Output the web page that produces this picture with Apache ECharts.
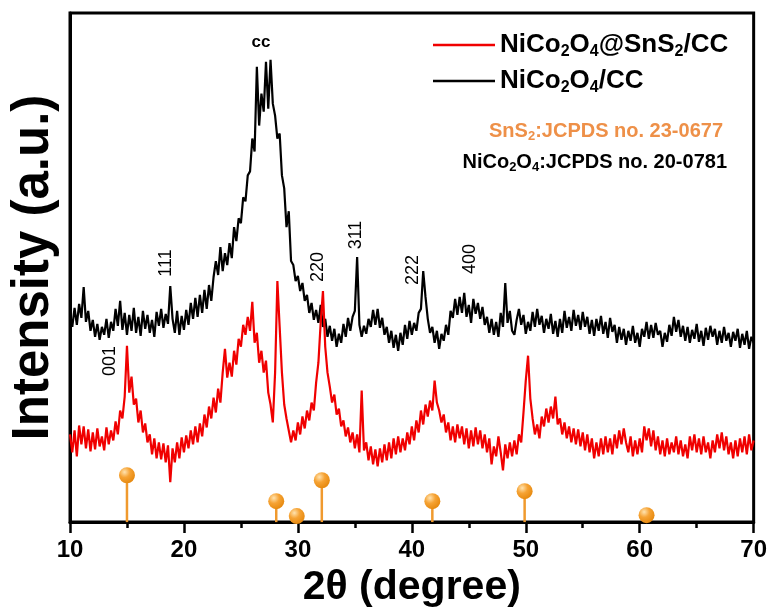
<!DOCTYPE html>
<html>
<head>
<meta charset="utf-8">
<title>XRD NiCo2O4@SnS2/CC</title>
<script src="https://cdn.jsdelivr.net/npm/echarts@6.0.0/dist/echarts.min.js"></script>
<style>
  html, body { margin: 0; padding: 0; background: #fff; }
  #main { width: 770px; height: 613px; }
</style>
</head>
<body>
<div id="main"></div>
<script>
// 2theta grid: 10.0 .. 70.0, step 0.2 (one row = one degree)
var thetaStart = 10;
var thetaStep = 0.2;

// NiCo2O4@SnS2/CC (red), intensity in a.u.
var nicoSns = [
  88,70,92,66,97,   78,96,74,93,71,   90,73,94,76,86,   72,95,78,92,82,
  101,88,112,104,126, 177,130,146,118,124, 100,112,90,99,80, 88,68,84,64,80,
  63,79,60,77,40,   74,60,80,64,85,   70,87,74,92,78,   96,80,99,86,108,
  95,116,104,125,110, 134,120,150,174,145, 160,146,172,158,184, 176,198,188,206,192,
  221,180,190,160,172, 150,162,130,118,100, 150,242,196,150,118, 104,92,80,92,82,
  100,88,106,94,112, 102,120,112,140,160, 200,232,176,150,136, 120,128,108,114,96,
  102,86,95,80,90,  74,88,70,132,72,  80,62,76,58,73,   56,74,60,78,62,
  80,64,84,68,86,   70,84,72,90,78,   96,82,102,90,112, 98,118,106,122,112,
  142,120,112,100,108, 90,100,82,96,80, 98,84,96,78,94,  74,92,76,95,78,
  92,74,88,70,84,   58,76,66,86,70,   52,78,64,80,66,   82,68,88,80,110,
  142,167,124,104,88, 98,84,106,96,114, 100,116,104,126,98, 104,88,100,84,96,
  80,94,78,93,76,   90,72,88,70,84,   64,80,66,84,68,   86,70,84,68,88,
  74,92,78,94,80,   70,86,66,82,68,   84,70,96,82,94,   76,92,72,86,68,
  82,66,84,68,80,   70,86,68,82,66,   78,64,86,72,88,   70,84,68,86,70,
  80,64,82,70,88,   74,90,72,86,68,   80,64,82,66,84,   70,86,68,88,72,
  82
];

// NiCo2O4/CC (black), intensity in a.u.
var nico = [
  210,196,215,198,219, 205,236,201,212,192, 203,186,199,183,196, 188,204,185,201,192,
  214,197,222,193,210, 188,208,192,215,190, 206,187,212,194,208, 190,203,186,211,197,
  214,195,209,199,237, 204,190,212,188,207, 193,213,198,220,204, 225,206,228,210,233,
  214,238,222,246,262, 248,276,252,270,258, 280,265,296,282,305, 300,326,322,348,352,
  385,372,457,398,430, 412,462,415,464,420, 408,385,390,348,335, 296,312,262,258,242,
  247,232,240,222,228, 210,220,203,213,200, 218,196,204,186,197, 182,194,176,189,180,
  199,186,205,192,206, 212,266,198,186,197, 189,204,196,213,198, 214,195,205,188,196,
  180,192,175,188,172, 190,178,198,184,202, 188,200,192,210,214, 252,226,204,190,196,
  180,192,174,189,182, 198,188,212,205,224, 208,226,210,230,206, 218,200,224,209,220,
  204,216,198,206,190, 204,188,201,186,210, 196,240,200,212,192, 188,203,214,198,208,
  189,201,192,211,196, 214,198,207,190,204, 194,209,189,202,186, 204,190,212,195,206,
  192,213,197,208,193, 211,196,206,189,203, 187,204,192,207,189, 201,185,205,191,198,
  180,196,183,194,178, 192,182,197,180,190, 176,194,186,201,184, 198,185,200,188,192,
  176,190,181,198,187, 206,191,203,186,197, 182,196,180,193,184, 199,181,192,177,195,
  183,197,186,194,178, 192,180,196,182,190, 176,191,182,194,175, 189,178,192,174,186,
  180
];

// SnS2 reference lines (JCPDS 23-0677): [2theta, relative height]
var sns2Ref = [[15.0, 47], [28.1, 21], [29.9, 6], [32.1, 42], [41.8, 21], [49.9, 31], [60.6, 7]];

var xTicks = [10, 20, 30, 40, 50, 60, 70];

function toPairs(arr) {
  return arr.map(function (v, i) {
    return [+(thetaStart + i * thetaStep).toFixed(1), v];
  });
}

var FONT = 'Liberation Sans, Arial, sans-serif';

// write digits as subscripts (legend names)
function subs(text) {
  return text.replace(/(\d)|([^\d]+)/g, function (m, d, t) {
    return d ? '{s|' + d + '}' : '{m|' + t + '}';
  });
}

var myChart = echarts.init(document.getElementById('main'));

var ballFill = new echarts.graphic.RadialGradient(0.35, 0.3, 0.75, [
  { offset: 0, color: '#FFE3B0' },
  { offset: 0.45, color: '#F6A334' },
  { offset: 1, color: '#E5870C' }
]);

var peakText = function (txt, x, y, rot) {
  return {
    type: 'text', x: x, y: y, rotation: rot ? Math.PI / 2 : 0,
    style: {
      text: txt, align: 'center', verticalAlign: 'middle',
      font: (rot ? 'normal 18px ' : 'bold 17px ') + FONT, fill: '#000'
    }
  };
};

// subscripts pushed down with top padding
function refRich(color) {
  return {
    a: { fontSize: 20, fontWeight: 'bold', fontFamily: FONT, fill: color, lineHeight: 24 },
    b: { fontSize: 13, fontWeight: 'bold', fontFamily: FONT, fill: color, lineHeight: 13, padding: [11, 0, 0, 0] }
  };
}

var option = {
  animation: false,
  textStyle: { fontFamily: FONT },
  grid: {
    left: 64, right: 15, top: 13, bottom: 89,
    show: true, borderColor: '#000', borderWidth: 3
  },
  legend: {
    data: ['NiCo2O4@SnS2/CC', 'NiCo2O4/CC'],
    orient: 'vertical',
    left: 428, top: 25,
    icon: 'rect', itemWidth: 62, itemHeight: 2.5, itemGap: 6,
    formatter: subs,
    textStyle: {
      color: '#000',
      rich: {
        m: { fontSize: 26, fontWeight: 'bold', fontFamily: FONT, color: '#000', lineHeight: 30 },
        s: { fontSize: 16, fontWeight: 'bold', fontFamily: FONT, color: '#000', lineHeight: 16, padding: [14, 0, 0, 0] }
      }
    }
  },
  xAxis: {
    type: 'value', min: 10, max: 70, interval: 10,
    name: '2θ (degree)', nameLocation: 'middle', nameGap: 43,
    nameTextStyle: { fontSize: 41, fontWeight: 'bold', color: '#000', fontFamily: FONT },
    axisLine: { lineStyle: { color: '#000', width: 3 } },
    axisTick: { length: 11, lineStyle: { width: 2.5, color: '#000' } },
    minorTick: { show: true, splitNumber: 2, length: 6, lineStyle: { width: 2.5, color: '#000' } },
    axisLabel: {
      fontSize: 24, fontWeight: 'bold', color: '#000', margin: 16,
      formatter: function (v) { return xTicks.indexOf(v) >= 0 ? String(v) : ''; }
    },
    splitLine: { show: false }
  },
  yAxis: {
    type: 'value', min: 0, max: 511,
    name: 'Intensity (a.u.)', nameLocation: 'middle', nameGap: 11,
    nameTextStyle: { fontSize: 51, fontWeight: 'bold', color: '#000', fontFamily: FONT },
    axisLine: { show: true, lineStyle: { color: '#000', width: 3 } },
    axisTick: { show: false },
    axisLabel: { show: false },
    splitLine: { show: false }
  },
  graphic: [
    peakText('cc', 261, 42, false),
    peakText('111', 166, 263, true),
    peakText('220', 318, 267, true),
    peakText('311', 356, 235, true),
    peakText('222', 413, 270, true),
    peakText('400', 470, 259, true),
    peakText('001', 110, 361, true),
    {
      type: 'text', x: 723, y: 131,
      style: {
        text: '{a|SnS}{b|2}{a|:JCPDS no. 23-0677}',
        align: 'right', verticalAlign: 'middle',
        rich: refRich('#EE9048')
      }
    },
    {
      type: 'text', x: 727, y: 162,
      style: {
        text: '{a|NiCo}{b|2}{a|O}{b|4}{a|:JCPDS no. 20-0781}',
        align: 'right', verticalAlign: 'middle',
        rich: refRich('#000')
      }
    }
  ],
  series: [
    {
      name: 'NiCo2O4/CC', type: 'line', data: toPairs(nico),
      showSymbol: false, color: '#000',
      lineStyle: { width: 2.2, color: '#000' }
    },
    {
      name: 'NiCo2O4@SnS2/CC', type: 'line', data: toPairs(nicoSns),
      showSymbol: false, color: '#F00000',
      lineStyle: { width: 2.2, color: '#F00000' }
    },
    {
      name: 'SnS2 ref', type: 'custom', data: sns2Ref, clip: false,
      renderItem: function (params, api) {
        var base = api.coord([api.value(0), 0]);
        var top = api.coord([api.value(0), api.value(1)]);
        return {
          type: 'group',
          children: [
            { type: 'line', shape: { x1: base[0], y1: base[1], x2: top[0], y2: top[1] },
              style: { stroke: '#F09A2E', lineWidth: 2.5 } },
            { type: 'circle', shape: { cx: top[0], cy: top[1], r: 8 },
              style: { fill: ballFill } }
          ]
        };
      }
    }
  ]
};

myChart.setOption(option);
</script>
</body>
</html>
